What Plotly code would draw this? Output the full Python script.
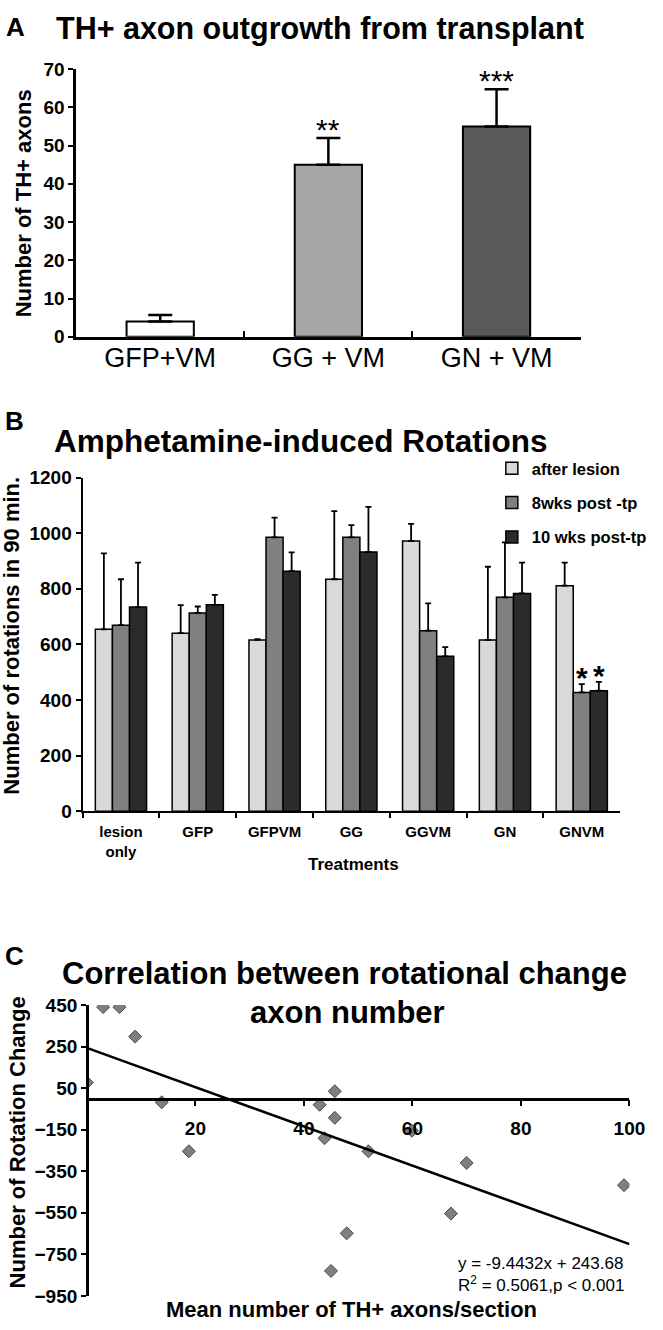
import plotly.graph_objects as go

W, H = 663, 1330
FONT = "Liberation Sans, Arial, sans-serif"

# ---------------- Data ----------------
# Panel A
a_categories = ["GFP+VM", "GG + VM", "GN + VM"]
a_values = [4.0, 45.0, 55.0]
a_errors = [1.7, 7.0, 9.7]
a_sig = ["", "**", "***"]
a_colors = ["#ffffff", "#a6a6a6", "#595959"]

# Panel B
b_categories = ["lesion<br>only", "GFP", "GFPVM", "GG", "GGVM", "GN", "GNVM"]
b_series = ["after lesion", "8wks post -tp", "10 wks post-tp"]
b_after_lesion = [654, 640, 616, 834, 972, 616, 811]
b_after_lesion_err = [273, 101, 3, 245, 61, 263, 83]
b_8wks = [669, 713, 985, 985, 649, 769, 427]
b_8wks_err = [165, 23, 71, 44, 98, 198, 30]
b_10wks = [734, 742, 863, 932, 557, 783, 433]
b_10wks_err = [160, 36, 68, 162, 33, 111, 32]
b_colors = ["#d9d9d9", "#808080", "#2b2b2b"]
b_sig = ["", "*", "*"]  # on GNVM, per series

# Panel C
c_x = [0.0, 3.0, 6.0, 8.9, 13.8, 18.8, 42.9, 43.8, 45.0, 45.7, 45.7, 47.9, 51.9, 59.9, 67.1, 70.0, 99.0]
c_y = [77, 440, 440, 298, -18, -254, -30, -191, -830, 35, -93, -649, -254, -155, -554, -310, -417]
c_slope, c_intercept = -9.4432, 243.68
c_fit_x = [0, 100]
c_eq_text = "y = -9.4432x + 243.68"
c_r2_text = "R<sup>2</sup> = 0.5061,p < 0.001"


def fx(px):
    return px / W


def fy(py):
    return 1 - py / H


fig = go.Figure()

# ---------------- Panel A ----------------
fig.add_trace(go.Bar(
    x=a_categories, y=a_values, width=0.4,
    marker=dict(color=a_colors, line=dict(color="black", width=2)),
    error_y=dict(type="data", array=a_errors, arrayminus=[0] * len(a_errors),
                 symmetric=False, color="black", thickness=2.5, width=12),
    xaxis="x", yaxis="y", showlegend=False, hoverinfo="skip",
))

# ---------------- Panel B ----------------
for name, vals, errs, col in zip(
        b_series, [b_after_lesion, b_8wks, b_10wks],
        [b_after_lesion_err, b_8wks_err, b_10wks_err], b_colors):
    fig.add_trace(go.Bar(
        x=b_categories, y=vals, name=name, legendgroup=name,
        marker=dict(color=col, line=dict(color="black", width=1.5)),
        error_y=dict(type="data", array=errs, arrayminus=[0] * len(errs),
                     symmetric=False, color="black", thickness=1.8, width=3),
        xaxis="x2", yaxis="y2",
    ))

# ---------------- Panel C ----------------
fig.add_trace(go.Scatter(
    x=c_x, y=c_y, mode="markers",
    marker=dict(symbol="diamond", size=10, color="#7f7f7f",
                line=dict(color="#4a4a4a", width=1)),
    xaxis="x3", yaxis="y3", showlegend=False,
))
fig.add_trace(go.Scatter(
    x=c_fit_x, y=[c_slope * v + c_intercept for v in c_fit_x], mode="lines",
    line=dict(color="black", width=2.5),
    xaxis="x3", yaxis="y3", showlegend=False,
))

tickfont_b = dict(family=FONT, size=19, color="black", weight="bold")

# domains
a_dom_x = [fx(78), fx(595)]
a_dom_y = [fy(332), fy(60)]
b_dom_x = [fx(84.6), fx(635.5)]
b_dom_y = [fy(814), fy(475)]
c_dom_x = [fx(89), fx(645)]
c_dom_y = [fy(1306.5), fy(1011)]
c_yrange = [-950, 450]
c_xaxis_pos = c_dom_y[0] + (0 - c_yrange[0]) / (c_yrange[1] - c_yrange[0]) * (c_dom_y[1] - c_dom_y[0])

fig.update_layout(
    width=W, height=H,
    margin=dict(l=0, r=0, t=0, b=0),
    paper_bgcolor="white", plot_bgcolor="white",
    font=dict(family=FONT, color="black"),
    barmode="group", bargap=0.333, bargroupgap=0,
    showlegend=True,
    legend=dict(x=fx(504), y=fy(448), xanchor="left", yanchor="top",
                font=dict(family=FONT, size=16.5, color="black", weight="bold"),
                tracegroupgap=10, bgcolor="rgba(0,0,0,0)", itemwidth=30),
    # Panel A
    xaxis=dict(domain=a_dom_x, anchor="y", type="category",
               showline=True, linecolor="black", linewidth=2.5,
               ticks="inside", ticklen=6, tickwidth=2, tickcolor="black",
               tickson="boundaries", showgrid=False, zeroline=False,
               tickfont=dict(family=FONT, size=27, color="black"),
               ticklabelstandoff=-5, range=[-0.5, 2.5]),
    yaxis=dict(domain=a_dom_y, anchor="x", range=[0, 70], dtick=10,
               showline=True, linecolor="black", linewidth=2.5,
               ticks="outside", ticklen=5, tickwidth=2, tickcolor="black",
               showgrid=False, zeroline=False, tickfont=tickfont_b),
    # Panel B
    xaxis2=dict(domain=b_dom_x, anchor="y2", type="category",
                showline=True, linecolor="black", linewidth=2,
                ticks="outside", ticklen=5, tickwidth=2, tickcolor="black",
                tickson="boundaries", showgrid=False, zeroline=False,
                tickfont=dict(family=FONT, size=15, color="black", weight="bold"),
                ticklabelstandoff=6, range=[-0.5, 6.5]),
    xaxis4=dict(domain=b_dom_x, anchor="y2", overlaying="x2", range=[-0.5, 6.5],
                tickvals=[i - 0.5 for i in range(len(b_categories) + 1)],
                showticklabels=False, showline=False, showgrid=False, zeroline=False,
                ticks="inside", ticklen=5, tickwidth=2, tickcolor="black"),
    yaxis2=dict(domain=b_dom_y, anchor="x2", range=[0, 1200], dtick=200,
                showline=True, linecolor="black", linewidth=2,
                ticks="outside", ticklen=5, tickwidth=2, tickcolor="black",
                showgrid=False, zeroline=False, tickfont=tickfont_b),
    # Panel C
    xaxis3=dict(domain=c_dom_x, anchor="free", position=c_xaxis_pos, range=[0, 100],
                tickvals=[20, 40, 60, 80, 100],
                showline=True, linecolor="black", linewidth=2.5,
                ticks="outside", ticklen=6, tickwidth=2, tickcolor="black",
                showgrid=False, zeroline=False,
                tickfont=dict(family=FONT, size=19, color="black", weight="bold"),
                ticklabelstandoff=6),
    xaxis5=dict(domain=c_dom_x, anchor="free", position=c_xaxis_pos, overlaying="x3",
                range=[0, 100], tickvals=[20, 40, 60, 80, 100],
                showticklabels=False, showline=False, showgrid=False, zeroline=False,
                ticks="inside", ticklen=6, tickwidth=2, tickcolor="black"),
    yaxis3=dict(domain=c_dom_y, anchor="free", position=c_dom_x[0], range=c_yrange,
                tickvals=list(range(-950, 451, 200)),
                showline=True, linecolor="black", linewidth=2.5,
                ticks="outside", ticklen=5, tickwidth=2, tickcolor="black",
                showgrid=False, zeroline=False, tickfont=tickfont_b),
)

ann = []


def txt(text, x, y, size, bold=True, xanchor="center", yanchor="middle", angle=0):
    ann.append(dict(text=text, x=fx(x), y=fy(y), xref="paper", yref="paper",
                    showarrow=False, xanchor=xanchor, yanchor=yanchor, textangle=angle,
                    font=dict(family=FONT, size=size, color="black",
                              weight="bold" if bold else "normal")))


# Panel letters and titles
txt("A", 4, 17, 26, xanchor="left")
txt("TH+ axon outgrowth from transplant", 55, 19, 30.5, xanchor="left")
txt("B", 3, 418, 26, xanchor="left")
txt("Amphetamine-induced Rotations", 53, 438, 31.5, xanchor="left")
txt("C", 3, 961, 26, xanchor="left")
txt("Correlation between rotational change", 353, 979, 31)
txt("axon number", 356, 1019, 31)

# Axis titles
txt("Number of TH+ axons", 24, 196, 22, angle=-90)
txt("Number of rotations in 90 min.", 12, 636, 22, angle=-90)
txt("Treatments", 362, 868, 17)
txt("Number of Rotation Change", 18, 1151, 22, angle=-90)
txt("Mean number of TH+ axons/section", 360, 1320, 22)

# Regression text
txt(c_eq_text, 467, 1274, 17, bold=False, xanchor="left")
txt(c_r2_text, 467, 1294, 17, bold=False, xanchor="left")

# Significance markers, panel A
for cat, v, e, s in zip(a_categories, a_values, a_errors, a_sig):
    if s:
        ann.append(dict(text=s, x=cat, y=v + e, xref="x", yref="y", showarrow=False,
                        xanchor="center", yanchor="bottom", yshift=-10,
                        font=dict(family=FONT, size=30, color="black")))

# Significance markers, panel B (GNVM group)
bar_w_px = (b_dom_x[1] - b_dom_x[0]) * W / len(b_categories) * (1 - 0.333) / 3
for k, (s, vals, errs) in enumerate(zip(b_sig, [b_after_lesion, b_8wks, b_10wks],
                                          [b_after_lesion_err, b_8wks_err, b_10wks_err])):
    if s:
        ann.append(dict(text=s, x=b_categories[-1], y=vals[-1] + errs[-1], xref="x2", yref="y2",
                        showarrow=False, xanchor="center", yanchor="bottom",
                        xshift=(k - 1) * bar_w_px, yshift=-12,
                        font=dict(family=FONT, size=30, color="black", weight="bold")))

fig.update_layout(annotations=ann)
fig.write_html("out.html", config={"displayModeBar": False},
               post_script="document.body.style.margin='0';")
